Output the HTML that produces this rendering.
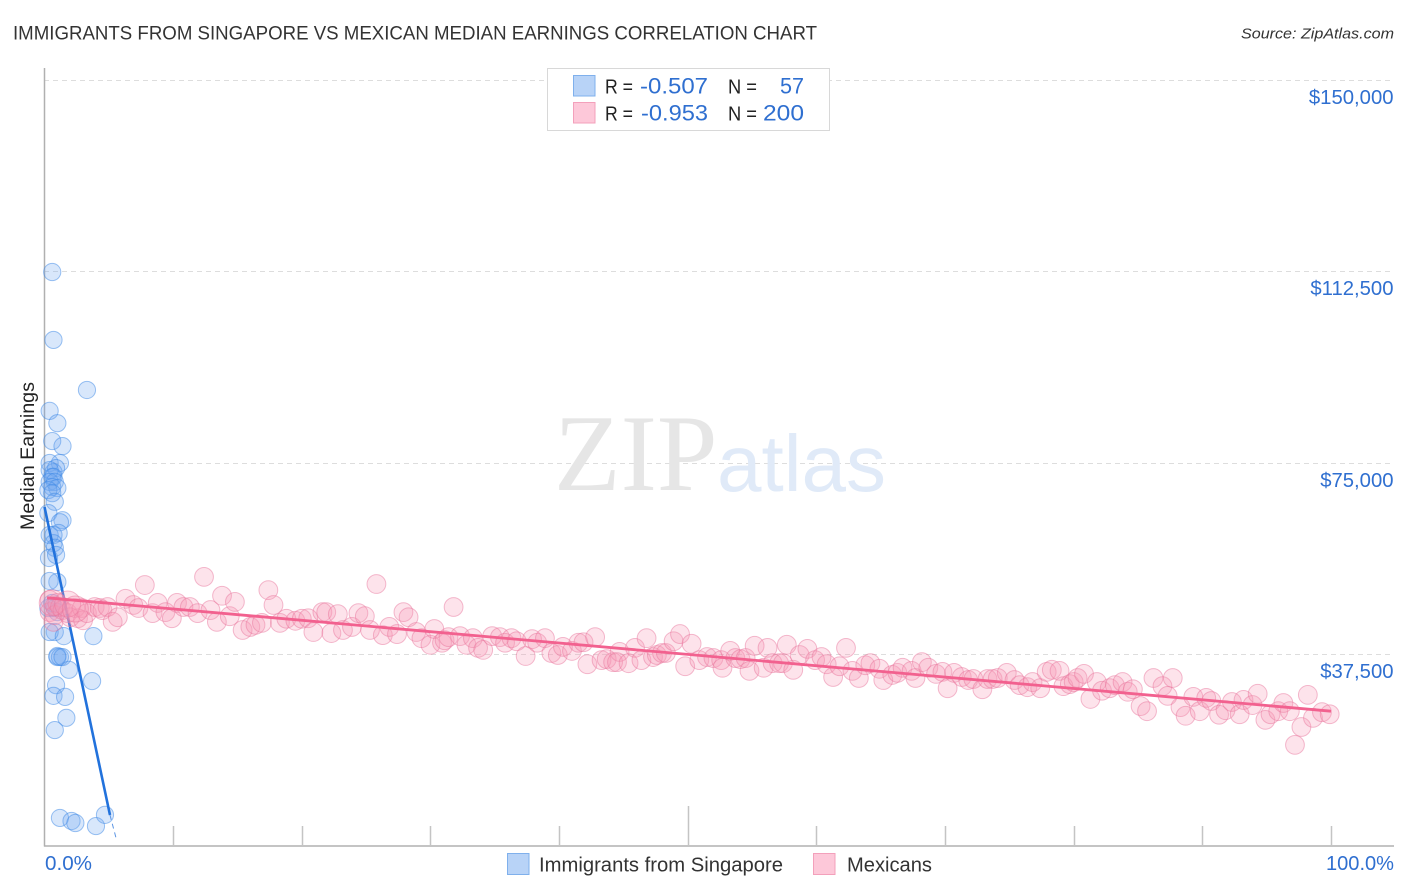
<!DOCTYPE html>
<html lang="en">
<head>
<meta charset="utf-8">
<title>Immigrants from Singapore vs Mexican Median Earnings Correlation Chart</title>
<style>
html,body{margin:0;padding:0;background:#fff;width:1406px;height:892px;overflow:hidden}
svg{display:block;font-family:"Liberation Sans",sans-serif}
</style>
</head>
<body>
<svg id="chart" width="1406" height="892" viewBox="0 0 1406 892" xmlns="http://www.w3.org/2000/svg">
  <rect x="0" y="0" width="1406" height="892" fill="#ffffff"/>
  <text x="13" y="39.5" font-size="19.5" fill="#333333" textLength="804" lengthAdjust="spacingAndGlyphs">IMMIGRANTS FROM SINGAPORE VS MEXICAN MEDIAN EARNINGS CORRELATION CHART</text>
  <text x="1241" y="38.5" font-size="15" font-style="italic" fill="#333333" textLength="153" lengthAdjust="spacingAndGlyphs">Source: ZipAtlas.com</text>

  <g id="grid"></g>

  <g>
    <text x="554" y="490" font-family="'Liberation Serif',serif" font-size="109" fill="#e6e6e6">ZIP</text>
    <text x="717" y="491" font-size="80" fill="#e0eaf8">atlas</text>
  </g>

  <g id="axes">
    <line x1="44.5" y1="68" x2="44.5" y2="846.5" stroke="#b0b0b0" stroke-width="1.5"/>
    <line x1="44" y1="846" x2="1394" y2="846" stroke="#b0b0b0" stroke-width="1.5"/>
  </g>

  <g id="blue-points"></g>
  <g id="blue-trend"></g>
  <g id="pink-points"></g>
  <g id="pink-trend"></g>

  <text transform="translate(34,456) rotate(-90)" text-anchor="middle" font-size="19" fill="#222222" textLength="148" lengthAdjust="spacingAndGlyphs">Median Earnings</text>

  <g id="tick-labels"></g>

  <g>
    <rect x="547.5" y="68.5" width="282" height="62" fill="#ffffff" stroke="#d8d8d8" stroke-width="1"/>
    <rect x="573.5" y="75.5" width="21.5" height="20.5" fill="#b8d3f7" stroke="#7fb0ec" stroke-width="1"/>
    <rect x="573.5" y="102.5" width="21.5" height="20.5" fill="#fdc8d9" stroke="#f3a0bb" stroke-width="1"/>
    <text x="605" y="93.5" font-size="20" fill="#222222" textLength="28" lengthAdjust="spacingAndGlyphs">R =</text>
    <text x="640" y="93.5" font-size="22" fill="#2f6fd0" textLength="68" lengthAdjust="spacingAndGlyphs">-0.507</text>
    <text x="728" y="93.5" font-size="20" fill="#222222" textLength="29" lengthAdjust="spacingAndGlyphs">N =</text>
    <text x="780" y="93.5" font-size="22" fill="#2f6fd0" textLength="24" lengthAdjust="spacingAndGlyphs">57</text>
    <text x="605" y="120.5" font-size="20" fill="#222222" textLength="28" lengthAdjust="spacingAndGlyphs">R =</text>
    <text x="641" y="120.5" font-size="22" fill="#2f6fd0" textLength="67" lengthAdjust="spacingAndGlyphs">-0.953</text>
    <text x="728" y="120.5" font-size="20" fill="#222222" textLength="29" lengthAdjust="spacingAndGlyphs">N =</text>
    <text x="763" y="120.5" font-size="22" fill="#2f6fd0" textLength="41" lengthAdjust="spacingAndGlyphs">200</text>
  </g>

  <g>
    <rect x="507.5" y="853.5" width="21.5" height="21" fill="#b8d3f7" stroke="#7fb0ec" stroke-width="1"/>
    <text x="539" y="871.5" font-size="20" fill="#333333" textLength="244" lengthAdjust="spacingAndGlyphs">Immigrants from Singapore</text>
    <rect x="813.5" y="853.5" width="21.5" height="21" fill="#fdc8d9" stroke="#f3a0bb" stroke-width="1"/>
    <text x="847" y="871.5" font-size="20" fill="#333333" textLength="85" lengthAdjust="spacingAndGlyphs">Mexicans</text>
  </g>
</svg>

<script>
/* Axis domains */
const xDomain = [0, 100];
const yDomain = [0, 150];

/* Tick values and labels */
const yTickValues = [37.5, 75, 112.5, 150];
const yTickLabels = ["$37,500", "$75,000", "$112,500", "$150,000"];
const xTickValues = [10, 20, 30, 40, 50, 60, 70, 80, 90, 100];
const xMajorTick = [50];
const xEndLabels = ["0.0%", "100.0%"];

/* Immigrants from Singapore: share (%) and median earnings ($ thousands) */
const singaporeShare = [0.6,0.7,3.3,0.4,1.0,0.6,1.4,1.2,0.4,0.7,0.9,0.6,0.4,0.7,0.4,0.8,0.6,1.0,0.3,0.6,0.8,0.3,1.4,1.2,1.1,0.4,0.7,0.7,0.8,0.35,0.9,1.0,0.4,0.8,0.3,0.6,1.0,0.8,0.4,1.5,3.8,1.0,1.2,1.0,1.4,1.9,3.7,0.9,0.7,1.6,1.7,0.8,1.2,2.1,2.4,4.0,4.7];
const singaporeEarnings = [112.4,99.1,89.3,85.2,82.8,79.3,78.3,75.0,75.0,73.2,74.0,72.3,73.6,72.3,71.3,71.3,70.3,70.1,69.7,69.1,67.4,65.2,63.8,63.4,61.3,60.9,60.9,59.3,58.4,56.4,57.0,51.7,51.9,46.6,46.6,47.6,45.8,41.9,41.9,41.1,41.1,37.2,37.0,37.0,37.0,34.5,32.3,31.5,29.4,29.2,25.1,22.7,5.5,4.9,4.5,3.9,6.1];

/* Mexicans: share (%) and median earnings ($ thousands) */
const mexicanShare = [0.4,0.4,0.7,0.8,0.8,1.0,1.2,1.4,1.8,2.0,2.4,2.6,2.9,3.0,3.3,3.9,4.3,4.5,4.9,5.3,5.7,6.3,6.9,7.3,7.8,8.4,8.8,9.4,9.9,10.3,10.8,11.3,11.9,12.4,12.9,13.4,13.8,14.4,14.8,15.4,16.0,16.4,16.9,17.4,17.8,18.3,18.8,19.5,20.0,20.5,20.9,21.6,21.9,22.3,22.8,23.2,23.9,24.4,24.9,25.3,25.8,26.3,26.8,27.4,27.9,28.3,28.9,29.3,30.0,30.3,30.9,31.1,31.4,31.8,32.3,32.8,33.3,33.7,34.1,34.8,35.4,35.8,36.3,36.7,37.4,37.9,38.3,38.9,39.4,39.9,40.3,41.0,41.5,41.9,42.8,42.2,43.3,43.7,44.2,44.7,44.5,45.4,45.9,46.4,46.8,47.3,47.6,48.0,48.3,48.9,49.4,50.3,49.8,50.9,51.5,52.0,52.6,52.7,53.3,53.7,54.1,54.5,54.8,55.2,55.9,56.2,56.6,57.1,57.4,57.7,58.2,58.7,59.3,59.9,60.4,60.8,61.3,61.8,62.3,62.8,63.3,63.8,64.2,64.9,65.2,65.9,66.3,66.7,67.4,67.7,68.2,68.7,69.3,69.8,70.2,70.7,71.3,71.8,72.2,72.9,73.3,73.7,74.1,74.8,75.4,75.8,76.4,76.8,77.4,77.9,78.3,78.9,79.2,79.7,80.0,80.3,80.8,81.3,81.8,82.2,82.8,83.2,83.8,84.2,84.6,85.2,85.7,86.2,86.9,87.3,87.7,88.3,88.7,89.3,89.8,90.3,90.7,91.3,91.8,92.3,92.9,93.2,93.9,94.3,94.9,95.3,95.9,96.3,96.8,97.2,97.7,98.2,98.6,99.3,99.9];
const mexicanEarnings = [48.2,45.8,43.9,47.0,45.2,47.6,46.8,46.2,45.6,44.8,46.6,44.6,46.6,44.2,45.6,46.8,46.6,46.2,46.8,43.9,44.8,48.4,47.2,46.6,51.1,45.6,47.6,45.8,44.6,47.6,46.8,46.8,45.6,52.7,46.2,43.9,49.0,45.0,47.8,42.3,42.9,43.3,43.7,50.1,47.2,43.7,44.5,44.1,44.5,44.6,41.9,45.8,45.8,41.7,45.4,42.3,42.9,45.6,45.0,42.3,51.3,41.3,42.9,41.5,45.8,44.8,41.9,40.7,39.4,42.5,39.8,40.3,40.9,46.8,41.1,39.4,40.7,38.8,38.4,41.1,40.9,39.8,40.7,40.1,37.2,40.5,39.8,40.7,37.8,37.4,39.0,38.2,39.8,39.9,40.9,35.6,36.4,36.6,36.0,38.0,36.0,35.8,38.8,36.4,40.7,37.0,37.4,37.8,37.8,40.1,41.5,39.6,35.2,36.4,37.0,36.8,36.4,34.9,38.2,36.8,36.6,36.8,34.3,39.2,34.9,38.8,35.8,35.8,35.8,39.4,34.5,37.4,38.6,36.4,37.0,35.6,33.1,35.2,38.8,34.3,32.9,35.4,35.8,34.7,32.5,33.5,33.9,34.9,34.3,32.9,36.0,34.9,33.7,34.1,30.9,33.9,33.1,32.5,32.7,30.7,32.7,32.7,32.9,33.9,32.5,31.5,31.1,32.1,30.9,34.1,34.5,34.3,31.3,31.7,32.1,32.9,33.7,28.8,32.1,30.4,30.9,31.5,32.1,30.2,30.7,27.4,26.4,32.9,31.3,29.4,32.9,27.2,25.5,29.2,26.4,29.0,28.4,25.7,26.6,28.2,25.8,28.6,27.6,29.8,24.7,25.8,26.4,28.0,26.4,19.8,23.3,29.6,25.1,26.2,25.8];

/* A few heavier Mexican observations near the origin */
const mexicanHeavyShare = [0.6,1.8,2.4];
const mexicanHeavyEarnings = [47.6,47.4,46.4];

/* Fitted trend lines: share (%) and earnings ($ thousands) */
const singaporeTrendShare = [0, 5.09];
const singaporeTrendEarnings = [66.4, 6.07];
const singaporeTrendExtShare = [5.09, 5.56];
const singaporeTrendExtEarnings = [6.07, 1.57];
const mexicanTrendShare = [0.2, 100];
const mexicanTrendEarnings = [48.6, 26.4];

const SVG_NS = "http://www.w3.org/2000/svg";
const plotLeft = 44.5, plotRight = 1331, plotBottom = 846, plotTop = 80;
function xScale(v){ return plotLeft + (v - xDomain[0]) / (xDomain[1] - xDomain[0]) * (plotRight - plotLeft); }
function yScale(v){ return plotBottom - (v - yDomain[0]) / (yDomain[1] - yDomain[0]) * (plotBottom - plotTop); }
function make(tag, attrs){
  const el = document.createElementNS(SVG_NS, tag);
  for (const k in attrs) el.setAttribute(k, attrs[k]);
  return el;
}

const gridGroup = document.getElementById("grid");
const axesGroup = document.getElementById("axes");
const labelGroup = document.getElementById("tick-labels");

yTickValues.forEach(function(v, i){
  const y = Math.floor(yScale(v)) + 0.5;
  const line = make("line", {x1: 44, y1: y, x2: 1394, y2: y, stroke: "#dddddd", "stroke-width": 1, "stroke-dasharray": "5 4"});
  
  
  gridGroup.appendChild(line);
  const label = make("text", {x: 1393.5, y: y + 23.5, "text-anchor": "end", "font-size": 20.3, fill: "#2f6fd0"});
  label.textContent = yTickLabels[i];
  
  
  labelGroup.appendChild(label);
});

xTickValues.forEach(function(v){
  const x = Math.round(xScale(v)) + 0.5;
  const top = xMajorTick.indexOf(v) >= 0 ? 806 : 826;
  const tick = make("line", {x1: x, y1: top, x2: x, y2: 846, stroke: "#c4c4c4", "stroke-width": 1.5});
  
  
  axesGroup.appendChild(tick);
});

const xStart = make("text", {x: 45, y: 870, "font-size": 20, fill: "#2f6fd0", textLength: 47, lengthAdjust: "spacingAndGlyphs"});
xStart.textContent = xEndLabels[0];


labelGroup.appendChild(xStart);

const xEnd = make("text", {x: 1326, y: 870, "font-size": 20, fill: "#2f6fd0", textLength: 68, lengthAdjust: "spacingAndGlyphs"});
xEnd.textContent = xEndLabels[1];


labelGroup.appendChild(xEnd);

const bluePoints = document.getElementById("blue-points");
singaporeShare.forEach(function(s, i){
  const c = make("circle", {cx: xScale(s), cy: yScale(singaporeEarnings[i]), r: 8.6, fill: "rgba(110,165,240,0.27)", stroke: "rgba(60,135,230,0.5)", "stroke-width": 1});
  
  
  bluePoints.appendChild(c);
});

const blueTrend = document.getElementById("blue-trend");
const blueSolid = make("line", {x1: xScale(singaporeTrendShare[0]), y1: yScale(singaporeTrendEarnings[0]), x2: xScale(singaporeTrendShare[1]), y2: yScale(singaporeTrendEarnings[1]), stroke: "#2272dc", "stroke-width": 2.6});


blueTrend.appendChild(blueSolid);
const blueDash = make("line", {x1: xScale(singaporeTrendExtShare[0]), y1: yScale(singaporeTrendExtEarnings[0]), x2: xScale(singaporeTrendExtShare[1]), y2: yScale(singaporeTrendExtEarnings[1]), stroke: "#5b95e4", "stroke-width": 1, "stroke-dasharray": "5 4"});


blueTrend.appendChild(blueDash);

const pinkPoints = document.getElementById("pink-points");
mexicanShare.forEach(function(s, i){
  const c = make("circle", {cx: xScale(s), cy: yScale(mexicanEarnings[i]), r: 9.4, fill: "rgba(246,150,182,0.27)", stroke: "rgba(232,115,155,0.48)", "stroke-width": 1});
  
  
  pinkPoints.appendChild(c);
});
mexicanHeavyShare.forEach(function(s, i){
  const c = make("circle", {cx: xScale(s), cy: yScale(mexicanHeavyEarnings[i]), r: 13, fill: "rgba(246,150,182,0.27)", stroke: "rgba(232,115,155,0.48)", "stroke-width": 1});
  
  
  pinkPoints.appendChild(c);
});

const pinkTrend = document.getElementById("pink-trend");
const pinkLine = make("line", {x1: xScale(mexicanTrendShare[0]), y1: yScale(mexicanTrendEarnings[0]), x2: xScale(mexicanTrendShare[1]), y2: yScale(mexicanTrendEarnings[1]), stroke: "#f2618f", "stroke-width": 2.8});


pinkTrend.appendChild(pinkLine);
</script>
</body>
</html>
